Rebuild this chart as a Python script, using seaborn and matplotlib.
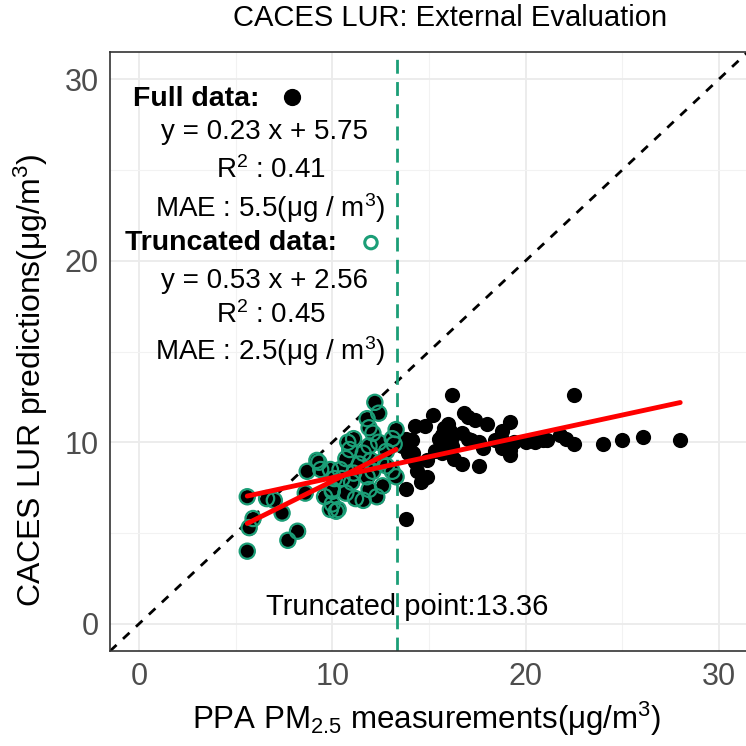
import numpy as np
import pandas as pd
import matplotlib
matplotlib.use("Agg")
import matplotlib.pyplot as plt
import seaborn as sns

# PPA measurements vs CACES LUR predictions (ug/m3)
measured = [
    5.6, 5.7, 5.9, 5.6, 6.6, 7.0, 7.4, 7.7, 8.2, 8.6, 8.7, 9.2, 9.4, 9.9, 10.0,
    10.2, 10.1, 12.2, 12.4, 11.8, 11.9, 12.1, 11.1, 13.3, 13.1, 10.9, 11.9, 11.6,
    10.7, 12.8, 12.5, 11.4, 12.1, 10.4, 11.1, 9.9, 9.3, 13.1, 13.3, 11.8, 10.5,
    10.0, 10.7, 11.9, 12.6, 11.6, 10.0, 10.3, 11.2, 12.8, 13.2, 12.0, 11.0, 12.3,
    10.8, 12.4, 9.6,
    16.2, 16.8, 17.0, 15.2, 14.8, 14.3, 15.8, 17.4, 18.0, 19.2, 18.8, 16.1, 16.2,
    15.7, 16.7, 17.0, 17.2, 17.6, 13.8, 14.1, 13.6, 15.8, 16.2, 18.4, 18.9, 19.4,
    20.0, 20.5, 20.9, 17.8, 18.8, 19.2, 15.3, 15.7, 14.2, 14.3, 14.9, 16.3, 16.7,
    17.6, 19.2, 14.4, 14.9, 14.6, 13.8, 13.9, 22.5, 21.8, 22.1, 22.5, 24.0, 25.0,
    26.1, 28.0, 21.1, 13.8, 14.7, 16.0, 15.5,
]
predicted = [
    7.0, 5.3, 5.8, 4.0, 6.9, 6.8, 6.1, 4.6, 5.1, 7.2, 8.4, 9.0, 8.5, 6.3, 7.3,
    6.2, 8.0, 12.2, 11.6, 11.3, 10.8, 10.5, 10.2, 10.7, 10.2, 9.6, 9.8, 9.4,
    9.1, 9.5, 8.9, 8.8, 8.4, 8.5, 8.3, 8.5, 8.9, 8.4, 8.1, 8.1, 8.0,
    7.4, 7.2, 7.4, 7.6, 6.8, 6.6, 6.3, 6.9, 8.7, 9.9, 9.0, 7.8, 7.0,
    10.0, 10.0, 7.0,
    12.6, 11.6, 11.4, 11.5, 10.9, 10.9, 10.8, 11.2, 11.0, 11.1, 10.6, 10.6, 10.3,
    10.4, 10.5, 10.2, 10.1, 10.0, 10.2, 10.1, 9.8, 9.9, 9.8, 10.1, 10.0, 10.0,
    10.0, 10.0, 10.1, 9.7, 9.7, 9.6, 9.5, 9.4, 9.4, 8.9, 9.0, 9.1, 8.8,
    8.7, 9.3, 8.4, 8.1, 7.8, 7.4, 9.4, 12.6, 10.4, 10.2, 9.9, 9.9, 10.1,
    10.3, 10.1, 10.1, 5.8, 8.0, 11.0, 10.2,
]
cutoff = 13.36
fit_slope = [0.23, 0.53]
fit_intercept = [5.75, 2.56]
fit_r2 = [0.41, 0.45]
fit_mae = [5.5, 2.5]

GREEN = "#1B9E77"

df = pd.DataFrame({"measured": measured, "predicted": predicted})
trunc = df[df["measured"] < cutoff]

sns.set_theme(style="whitegrid")
plt.rcParams["font.family"] = ["Liberation Sans", "DejaVu Sans"]
plt.rcParams["mathtext.fontset"] = "custom"
plt.rcParams["mathtext.rm"] = "Liberation Sans"
plt.rcParams["mathtext.it"] = "Liberation Sans:italic"
plt.rcParams["text.color"] = "black"
plt.rcParams["axes.labelcolor"] = "black"

fig = plt.figure(figsize=(7.46, 7.46), dpi=100)
ax = fig.add_axes([0.1475, 0.1273, 0.855, 0.803])

ax.set_xlim(-1.5, 31.5)
ax.set_ylim(-1.5, 31.5)
ticks = [0, 10, 20, 30]
ax.set_xticks(ticks)
ax.set_yticks(ticks)
ax.set_xticks([5, 15, 25], minor=True)
ax.set_yticks([5, 15, 25], minor=True)
ax.grid(which="major", color="#EBEBEB", lw=1.3)
ax.grid(which="minor", color="#F2F2F2", lw=0.8)
for s in ax.spines.values():
    s.set_color("#333333")
    s.set_linewidth(1.2)
ax.tick_params(axis="both", which="major", length=5, width=1.1, color="#333333",
               labelsize=22, labelcolor="#4D4D4D", direction="out", pad=3)
ax.tick_params(which="minor", length=0)

# 1:1 reference line
ax.plot([-1.5, 31.5], [-1.5, 31.5], ls=(0, (3.2, 3.2)), color="black", lw=2, zorder=2)

# full data and truncated data
sns.scatterplot(data=df, x="measured", y="predicted", ax=ax, color="black",
                s=120, edgecolor="black", linewidth=0, zorder=3, legend=False)
sns.scatterplot(data=trunc, x="measured", y="predicted", ax=ax, facecolor="none",
                s=120, edgecolor=GREEN, linewidth=1.6, zorder=4, legend=False)

# fitted lines from the reported coefficients
for sub, a, b in [(df, fit_slope[0], fit_intercept[0]), (trunc, fit_slope[1], fit_intercept[1])]:
    xs = np.array([sub["measured"].min(), sub["measured"].max()])
    sns.lineplot(x=xs, y=a * xs + b, ax=ax, color="red", lw=3.5, zorder=5)

ax.axvline(cutoff, color=GREEN, ls=(0, (5, 3)), lw=2, zorder=2)

ax.text(cutoff + 0.5, 0.95, f"Truncated point:{cutoff}", ha="center", va="center",
        fontsize=21, zorder=6)

# annotation block
ax.text(-0.3, 28.9, "Full data:", ha="left", va="center", fontsize=20.5,
        fontweight="bold", zorder=6)
ax.scatter([7.9], [29.0], s=130, color="black", zorder=6)
ax.text(6.5, 27.1, f"y = {fit_slope[0]} x + {fit_intercept[0]}", ha="center",
        va="center", fontsize=20, zorder=6)
ax.text(6.8, 25.0, f"R$^2$ : {fit_r2[0]}", ha="center", va="center",
        fontsize=20, zorder=6)
ax.text(6.8, 22.9, f"MAE : {fit_mae[0]}(μg / m$^3$)", ha="center", va="center",
        fontsize=20, zorder=6)
ax.text(-0.7, 21.0, "Truncated data:", ha="left", va="center", fontsize=20.5,
        fontweight="bold", zorder=6)
ax.scatter([12.0], [21.0], s=80, facecolor="none", edgecolor=GREEN, lw=2.2, zorder=6)
ax.text(6.5, 18.9, f"y = {fit_slope[1]} x + {fit_intercept[1]}", ha="center",
        va="center", fontsize=20, zorder=6)
ax.text(6.8, 17.0, f"R$^2$ : {fit_r2[1]}", ha="center", va="center",
        fontsize=20, zorder=6)
ax.text(6.8, 15.0, f"MAE : {fit_mae[1]}(μg / m$^3$)", ha="center", va="center",
        fontsize=20, zorder=6)

ax.set_xlabel("PPA PM$_{2.5}$ measurements(μg/m$^3$)", fontsize=22.5)
ax.xaxis.set_label_coords(0.497, -0.113)
ax.xaxis.label.set_va("center")
ax.set_ylabel("CACES LUR predictions(μg/m$^3$)", fontsize=23)
ax.yaxis.set_label_coords(-0.124, 0.452)
ax.yaxis.label.set_va("center")
fig.text(450 / 746, 1 - 18 / 746, "CACES LUR: External Evaluation",
         ha="center", va="center", fontsize=21)

fig.savefig("out.png", dpi=100)
